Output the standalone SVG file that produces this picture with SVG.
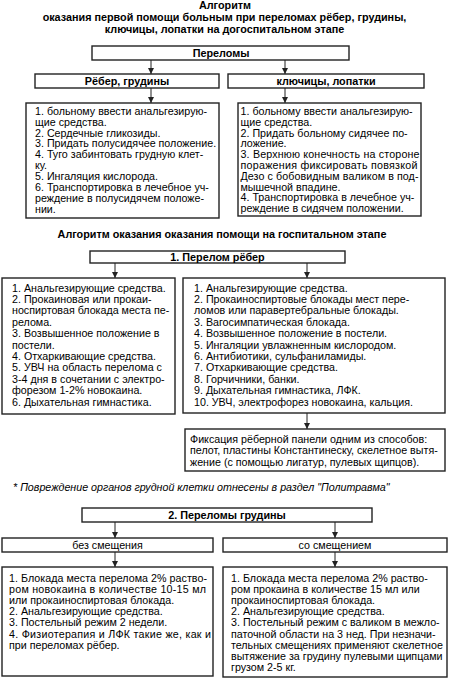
<svg xmlns="http://www.w3.org/2000/svg" width="450" height="685" viewBox="0 0 450 685">
<style>
text{font-family:"Liberation Sans",Arial,sans-serif;fill:#000}
.t{font-size:10.7px}
.h{font-size:10.8px;font-weight:bold;text-anchor:middle}
.c{font-size:10.7px;text-anchor:middle}
.i{font-size:10.7px;font-style:italic}
.box{fill:#fff;stroke:#222;stroke-width:1.4}
.con{stroke:#222;stroke-width:1;fill:none;marker-end:url(#ah)}
</style>
<defs>
<marker id="ah" viewBox="0 0 10 10" refX="10" refY="5" markerWidth="6.5" markerHeight="6" markerUnits="userSpaceOnUse" orient="auto">
<path d="M0,0 L10,5 L0,10 z" fill="#222"/>
</marker>
</defs>
<rect width="450" height="685" fill="#fff"/>

<g id="title">
<text class="h" x="225" y="9">Алгоритм</text>
<text class="h" x="224.5" y="20.5">оказания первой помощи больным при переломах рёбер, грудины,</text>
<text class="h" x="224.5" y="32.5">ключицы, лопатки на догоспитальном этапе</text>
</g>

<g id="connectors">
<line class="con" x1="151" y1="60" x2="151" y2="74"/>
<line class="con" x1="285" y1="60" x2="285" y2="74"/>
<line class="con" x1="151" y1="88" x2="151" y2="103"/>
<line class="con" x1="285" y1="88" x2="285" y2="103"/>
<line class="con" x1="115" y1="263" x2="115" y2="278"/>
<line class="con" x1="307" y1="263" x2="307" y2="278"/>
<line class="con" x1="307" y1="413" x2="307" y2="429"/>
<line class="con" x1="115" y1="522" x2="115" y2="538"/>
<line class="con" x1="335" y1="522" x2="335" y2="538"/>
<line class="con" x1="115" y1="552" x2="115" y2="567"/>
<line class="con" x1="335" y1="552" x2="335" y2="567"/>
</g>

<g id="n-perelomy">
<rect class="box" x="92" y="46" width="257" height="14"/>
<text class="h" x="221" y="57">Переломы</text>
</g>

<g id="n-reber">
<rect class="box" x="35" y="74" width="184" height="14"/>
<text class="h" x="127" y="85">Рёбер, грудины</text>
</g>

<g id="n-klyuchicy">
<rect class="box" x="228" y="74" width="196" height="14"/>
<text class="h" x="326" y="85">ключицы, лопатки</text>
</g>

<g id="n-reber-help">
<rect class="box" x="26" y="103" width="193" height="115"/>
<text class="t" x="35" y="115">1. больному ввести анальгезирую-</text>
<text class="t" x="35" y="125.8">щие средства.</text>
<text class="t" x="35" y="136.6">2. Сердечные гликозиды.</text>
<text class="t" x="35" y="147.4">3. Придать полусидячее положение.</text>
<text class="t" x="35" y="158.2">4. Туго забинтовать грудную клет-</text>
<text class="t" x="35" y="169">ку.</text>
<text class="t" x="35" y="180.4">5. Ингаляция кислорода.</text>
<text class="t" x="35" y="191.2">6. Транспортировка в лечебное уч-</text>
<text class="t" x="35" y="202">реждение в полусидячем положе-</text>
<text class="t" x="35" y="212.8">нии.</text>
</g>

<g id="n-klyuchicy-help">
<rect class="box" x="238" y="103" width="183" height="113"/>
<text class="t" x="240.5" y="115">1. больному ввести анальгезирую-</text>
<text class="t" x="240.5" y="125.8">щие средства.</text>
<text class="t" x="240.5" y="136.6">2. Придать больному сидячее по-</text>
<text class="t" x="240.5" y="147.4">ложение.</text>
<text class="t" x="240.5" y="158.2" textLength="179" lengthAdjust="spacing">3. Верхнюю конечность на стороне</text>
<text class="t" x="240.5" y="169" textLength="177" lengthAdjust="spacing">поражения фиксировать повязкой</text>
<text class="t" x="240.5" y="179.8" textLength="178" lengthAdjust="spacing">Дезо с бобовидным валиком в под-</text>
<text class="t" x="240.5" y="190.6">мышечной впадине.</text>
<text class="t" x="240.5" y="201.4">4. Транспортировка в лечебное уч-</text>
<text class="t" x="240.5" y="212.2">реждение в сидячем положении.</text>
</g>

<g id="heading2">
<text class="h" x="222" y="238">Алгоритм оказания оказания помощи на госпитальном этапе</text>
</g>

<g id="n-perelom-reber">
<rect class="box" x="90" y="251" width="255" height="12"/>
<text class="h" x="217.5" y="261">1. Перелом рёбер</text>
</g>

<g id="n-reber-left">
<rect class="box" x="2" y="278" width="173" height="136"/>
<text class="t" x="12" y="291.5">1. Анальгезирующие средства.</text>
<text class="t" x="12" y="302.9">2. Прокаиновая или прокаи-</text>
<text class="t" x="12" y="314.3">носпиртовая блокада места пе-</text>
<text class="t" x="12" y="325.7">релома.</text>
<text class="t" x="12" y="337.1">3. Возвышенное положение в</text>
<text class="t" x="12" y="348.5">постели.</text>
<text class="t" x="12" y="359.9">4. Отхаркивающие средства.</text>
<text class="t" x="12" y="371.3">5. УВЧ на область перелома с</text>
<text class="t" x="12" y="382.7">3-4 дня в сочетании с электро-</text>
<text class="t" x="12" y="394.1">форезом 1-2% новокаина.</text>
<text class="t" x="12" y="405.5">6. Дыхательная гимнастика.</text>
</g>

<g id="n-reber-right">
<rect class="box" x="183" y="278" width="262" height="135"/>
<text class="t" x="194" y="291.5">1. Анальгезирующие средства.</text>
<text class="t" x="194" y="302.9">2. Прокаиноспиртовые блокады мест пере-</text>
<text class="t" x="194" y="314.3">ломов или паравертебральные блокады.</text>
<text class="t" x="194" y="325.7">3. Вагосимпатическая блокада.</text>
<text class="t" x="194" y="337.1">4. Возвышенное положение в постели.</text>
<text class="t" x="194" y="348.5">5. Ингаляции увлажненным кислородом.</text>
<text class="t" x="194" y="359.9">6. Антибиотики, сульфаниламиды.</text>
<text class="t" x="194" y="371.3">7. Отхаркивающие средства.</text>
<text class="t" x="194" y="382.7">8. Горчичники, банки.</text>
<text class="t" x="194" y="394.1">9. Дыхательная гимнастика, ЛФК.</text>
<text class="t" x="194" y="405.5">10. УВЧ, электрофорез новокаина, кальция.</text>
</g>

<g id="n-fiksaciya">
<rect class="box" x="185" y="429" width="260" height="42"/>
<text class="t" x="190" y="442.5">Фиксация рёберной панели одним из способов:</text>
<text class="t" x="190" y="454">пелот, пластины Константинеску, скелетное вытя-</text>
<text class="t" x="190" y="465.5">жение (с помощью лигатур, пулевых щипцов).</text>
</g>

<g id="footnote">
<text class="i" x="13" y="490.5">* Повреждение органов грудной клетки отнесены в раздел "Политравма"</text>
</g>

<g id="n-grudiny">
<rect class="box" x="82" y="508" width="290" height="14"/>
<text class="h" x="227" y="519">2. Переломы грудины</text>
</g>

<g id="n-bez">
<rect class="box" x="2" y="538" width="211" height="14"/>
<text class="c" x="107.5" y="549">без смещения</text>
</g>

<g id="n-so">
<rect class="box" x="223" y="538" width="224" height="14"/>
<text class="c" x="335" y="549">со смещением</text>
</g>

<g id="n-bez-help">
<rect class="box" x="2" y="567" width="211" height="109"/>
<text class="t" x="9" y="581.5" textLength="198" lengthAdjust="spacing">1. Блокада места перелома 2% раство-</text>
<text class="t" x="9" y="592.7" textLength="197" lengthAdjust="spacing">ром новокаина в количестве 10-15 мл</text>
<text class="t" x="9" y="603.9">или прокаиноспиртовая блокада.</text>
<text class="t" x="9" y="615.1">2. Анальгезирующие средства.</text>
<text class="t" x="9" y="626.3">3. Постельный режим 2 недели.</text>
<text class="t" x="9" y="637.5" textLength="202" lengthAdjust="spacing">4. Физиотерапия и ЛФК такие же, как и</text>
<text class="t" x="9" y="648.7">при переломах рёбер.</text>
</g>

<g id="n-so-help">
<rect class="box" x="223" y="567" width="224" height="110"/>
<text class="t" x="231" y="581.5">1. Блокада места перелома 2% раство-</text>
<text class="t" x="231" y="592.7">ром прокаина в количестве 15 мл или</text>
<text class="t" x="231" y="603.9">прокаиноспиртовая блокада.</text>
<text class="t" x="231" y="615.1">2. Анальгезирующие средства.</text>
<text class="t" x="231" y="626.3">3. Постельный режим с валиком в межло-</text>
<text class="t" x="231" y="637.5">паточной области на 3 нед. При незначи-</text>
<text class="t" x="231" y="648.7">тельных смещениях применяют скелетное</text>
<text class="t" x="231" y="659.9">вытяжение за грудину пулевыми щипцами</text>
<text class="t" x="231" y="671.1">грузом 2-5 кг.</text>
</g>
</svg>
